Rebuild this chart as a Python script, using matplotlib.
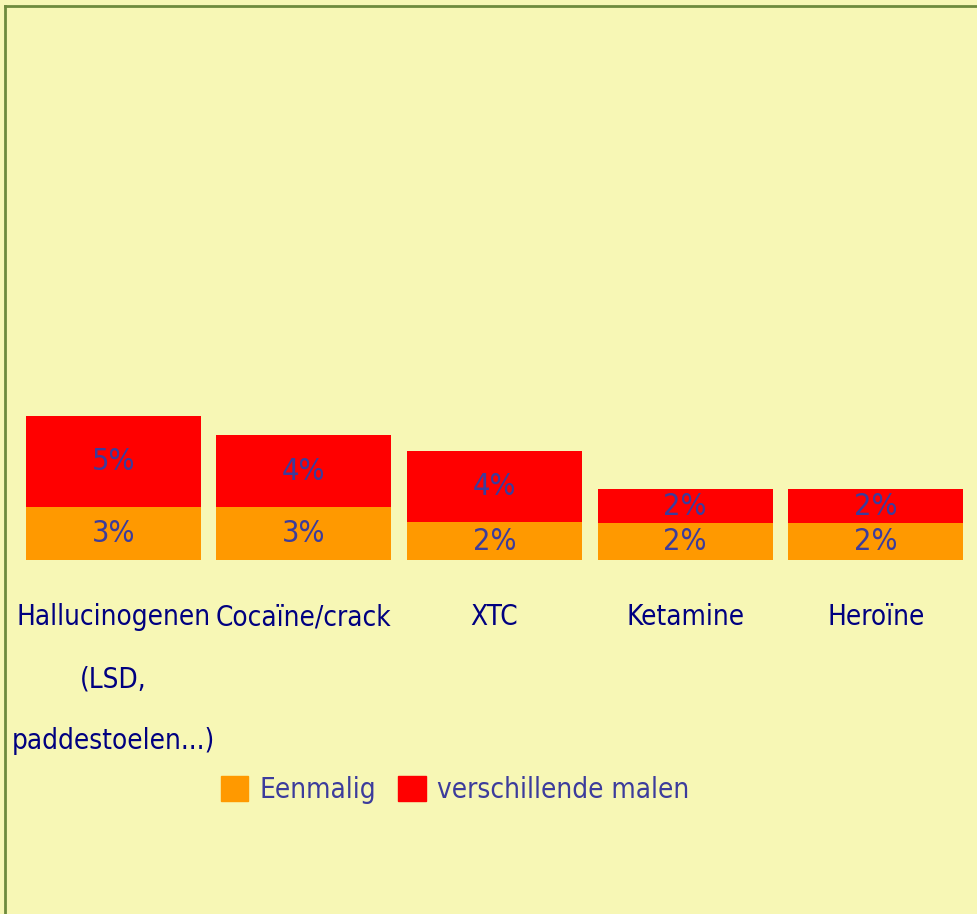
import matplotlib
matplotlib.use("Agg")
import matplotlib.pyplot as plt
from matplotlib import font_manager
from matplotlib.lines import Line2D
import numpy as np

categories = ["Hallucinogenen\n(LSD,\npaddestoelen...)", "Cocaïne/crack", "XTC", "Ketamine", "Heroïne"]
eenmalig = [2.94, 2.94, 2.09, 2.03, 2.03]
verschillende = [5.06, 4.0, 3.94, 1.93, 1.93]
eenmalig_labels = ["3%", "3%", "2%", "2%", "2%"]
verschillende_labels = ["5%", "4%", "4%", "2%", "2%"]
series_names = ["Eenmalig", "verschillende malen"]

# font choice: prefer a narrow family
names = {f.name for f in font_manager.fontManager.ttflist}
if "Liberation Sans Narrow" in names:
    FAM = ["Liberation Sans Narrow", "DejaVu Sans"]
    STRETCH = "normal"
else:
    FAM = ["DejaVu Sans"]
    STRETCH = "condensed"
plt.rcParams["font.family"] = FAM
plt.rcParams["font.stretch"] = STRETCH

W, H = 978, 914
bg = "#F7F7B5"
orange = "#FF9900"
red = "#FF0000"
lab_col = "#3C3C9C"
cat_col = "#000080"

fig = plt.figure(figsize=(W / 100, H / 100), dpi=100, facecolor=bg)

# axes in pixel coords
left_px, right_px = 18, 971
bottom_px, top_px = 560, 20
ax = fig.add_axes([left_px / W, 1 - bottom_px / H, (right_px - left_px) / W, (bottom_px - top_px) / H])
ax.set_facecolor("none")
x = np.arange(len(categories))
bw = 175 / 190.5
ax.bar(x, eenmalig, width=bw, color=orange, label=series_names[0])
ax.bar(x, verschillende, width=bw, bottom=eenmalig, color=red, label=series_names[1])
ax.set_xlim(-0.5, len(categories) - 0.5)
ax.set_ylim(0, 30)
for s in ax.spines.values():
    s.set_visible(False)
ax.set_yticks([])
ax.set_xticks([])

fs_val = 22
fs_cat = 20
for i in range(len(categories)):
    ax.text(x[i], eenmalig[i] / 2, eenmalig_labels[i], ha="center", va="center",
            fontsize=fs_val, color=lab_col)
    ax.text(x[i], eenmalig[i] + verschillende[i] / 2, verschillende_labels[i], ha="center",
            va="center", fontsize=fs_val, color=lab_col)
    ax.annotate(categories[i], xy=(x[i], 0), xycoords="data", xytext=(0, -31),
                textcoords="offset points", ha="center", va="top", fontsize=fs_cat,
                color=cat_col, linespacing=2.55)

handles = [plt.Rectangle((0, 0), 1, 1, color=orange), plt.Rectangle((0, 0), 1, 1, color=red)]
leg = fig.legend(handles, series_names, loc="center", bbox_to_anchor=(455 / W, 1 - 790 / H),
                 ncol=2, frameon=False, fontsize=fs_cat, handlelength=1.0, handleheight=1.0,
                 handletextpad=0.4, columnspacing=0.8)
for t in leg.get_texts():
    t.set_color(lab_col)

# border
bc = "#6E8B3D"
fig.add_artist(Line2D([5 / W, 5 / W], [0, 1 - 6 / H], transform=fig.transFigure, color=bc, lw=2))
fig.add_artist(Line2D([5 / W, 1], [1 - 6 / H, 1 - 6 / H], transform=fig.transFigure, color=bc, lw=2))

fig.savefig("out.png", dpi=100, facecolor=bg)
